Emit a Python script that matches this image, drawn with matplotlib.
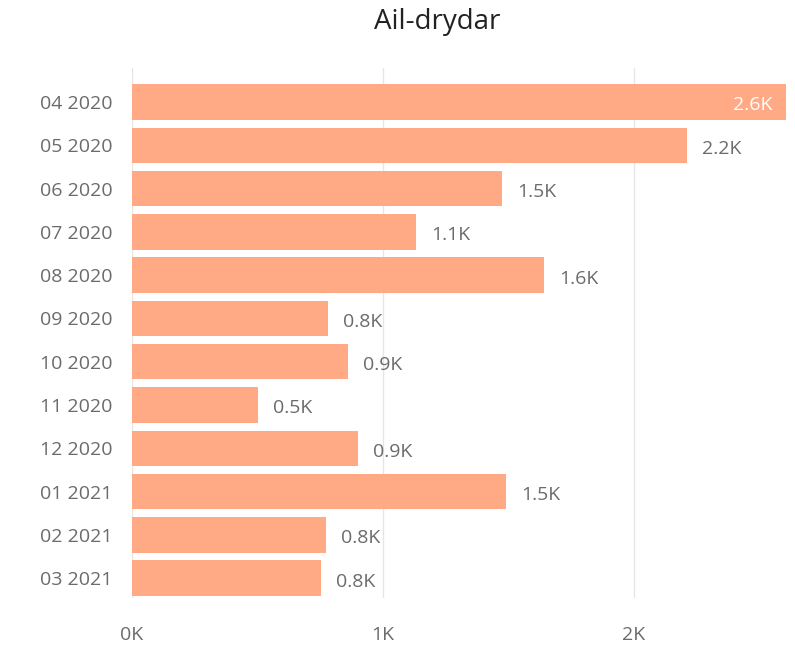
import matplotlib

matplotlib.use("Agg")
import matplotlib.pyplot as plt  # noqa: E402
from matplotlib.ticker import FuncFormatter  # noqa: E402

plt.rcParams["font.family"] = ["Open Sans", "DejaVu Sans"]

months = ["04 2020", "05 2020", "06 2020", "07 2020", "08 2020", "09 2020",
          "10 2020", "11 2020", "12 2020", "01 2021", "02 2021", "03 2021"]
values = [2606, 2211, 1474, 1131, 1641, 781, 861, 502, 900, 1490, 773, 752]

bar_color = "#FFA985"
text_color = "#6b6b6b"
fs = 14

fig = plt.figure(figsize=(7.95, 6.51), dpi=100)
ax = fig.add_axes([0.166, 0.0814, 0.824, 0.8141])

pos = range(len(months))
ax.barh(pos, values, height=0.82, color=bar_color, zorder=2)
ax.set_yticks(list(pos))
ax.set_yticklabels(months)
ax.set_ylim(len(months) - 1 + 0.46, -0.785)
ax.set_xlim(0, 2610)
ax.set_xticks([0, 1000, 2000])
ax.xaxis.set_major_formatter(FuncFormatter(lambda v, _: f"{v / 1000:.0f}K"))
ax.grid(axis="x", color="#e6e6e6", linewidth=1, zorder=0)
ax.tick_params(length=0, labelsize=fs, labelcolor=text_color)
ax.tick_params(axis="y", pad=14)
ax.tick_params(axis="x", pad=20)
for s in ax.spines.values():
    s.set_visible(False)

xmax = ax.get_xlim()[1]
for i, v in enumerate(values):
    label = f"{v / 1000:.1f}K"
    if v > 0.9 * xmax:
        ax.text(v - 55, i + 0.08, label, ha="right", va="center", color="white", fontsize=fs)
    else:
        ax.text(v + 60, i + 0.08, label, ha="left", va="center", color=text_color, fontsize=fs)

fig.text(0.55, 0.966, "Ail-drydar", ha="center", va="center", fontsize=20, color="#222222")

fig.savefig("out.png", dpi=100)
